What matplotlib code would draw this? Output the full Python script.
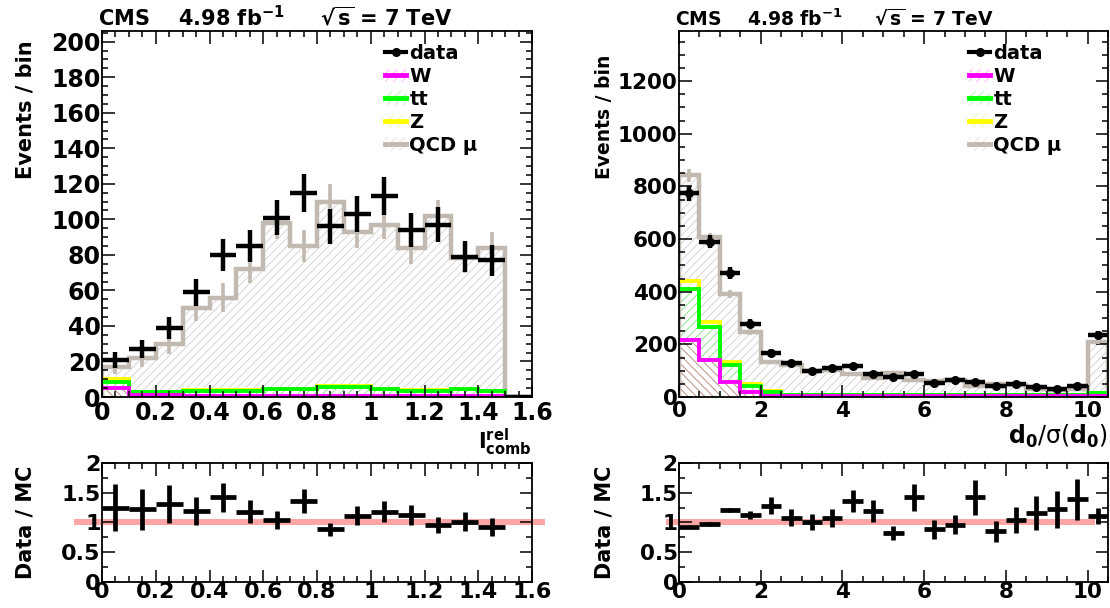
import numpy as np
import matplotlib
matplotlib.use('Agg')
import matplotlib.pyplot as plt
from matplotlib.ticker import MultipleLocator, FuncFormatter
from matplotlib.lines import Line2D
from matplotlib.patches import Patch
from matplotlib.legend_handler import HandlerTuple

plt.rcParams['font.family'] = ['DejaVu Sans']
plt.rcParams['font.weight'] = 'bold'
plt.rcParams['mathtext.fontset'] = 'dejavusans'
plt.rcParams['mathtext.default'] = 'bf'
plt.rcParams['hatch.linewidth'] = 0.6

# ---- left: relative combined isolation, 16 bins of 0.1 ----
iso_edges = [0.0, 0.1, 0.2, 0.3, 0.4, 0.5, 0.6, 0.7, 0.8, 0.9, 1.0, 1.1, 1.2, 1.3, 1.4, 1.5, 1.6]
iso_data = [21, 27, 39, 59, 80, 85, 101, 115, 96, 103, 113, 94, 97, 79, 77, 0]
iso_data_err = [4.6, 5.2, 6.2, 7.7, 8.9, 9.2, 10, 10.7, 9.8, 10.1, 10.6, 9.7, 9.8, 8.9, 8.8, 0]
iso_qcd = [17, 22, 30, 50, 56, 72, 98, 85, 110, 93, 97, 84, 102, 78, 84, 0]
iso_qcd_err = [4, 5, 6, 7, 8, 8, 9, 9, 10, 9, 8, 9, 9, 8, 9, 0]
iso_z = [10, 2.9, 2.9, 3.8, 3.8, 3.8, 4.6, 4.6, 6.0, 6.0, 4.5, 3.8, 3.8, 4.5, 3.6, 0]
iso_tt = [8.5, 2.6, 2.6, 3.6, 3.6, 3.6, 4.4, 4.4, 5.8, 5.8, 4.3, 3.6, 3.6, 4.3, 3.4, 0]
iso_w = [5, 1, 1, 0.8, 0.8, 0.8, 0.8, 0.8, 0.8, 0.8, 0.8, 0.8, 0.8, 0.8, 0.8, 0]
iso_centres = [0.05, 0.15, 0.25, 0.35, 0.45, 0.55, 0.65, 0.75, 0.85, 0.95, 1.05, 1.15, 1.25, 1.35, 1.45, 1.55]
iso_ratio = [1.25, 1.22, 1.31, 1.19, 1.42, 1.18, 1.04, 1.36, 0.885, 1.115, 1.18, 1.13, 0.96, 1.01, 0.92]
iso_ratio_err = [0.40, 0.35, 0.32, 0.23, 0.25, 0.19, 0.15, 0.20, 0.11, 0.16, 0.18, 0.17, 0.13, 0.16, 0.15]

# ---- right: d0 significance, 21 bins of 0.5 ----
d0_edges = [0.0, 0.5, 1.0, 1.5, 2.0, 2.5, 3.0, 3.5, 4.0, 4.5, 5.0, 5.5, 6.0, 6.5, 7.0, 7.5,
            8.0, 8.5, 9.0, 9.5, 10.0, 10.5]
d0_centres = [0.25, 0.75, 1.25, 1.75, 2.25, 2.75, 3.25, 3.75, 4.25, 4.75, 5.25, 5.75, 6.25,
              6.75, 7.25, 7.75, 8.25, 8.75, 9.25, 9.75, 10.25]
d0_data = [773, 590, 472, 279, 169, 130, 98, 112, 119, 86, 77, 88, 54, 64, 56, 42, 48, 37, 32, 42, 235]
d0_data_err = [28, 24, 22, 17, 13, 11, 10, 11, 11, 9, 9, 9, 7, 8, 7, 6, 7, 6, 6, 6, 15]
d0_qcd = [842, 606, 391, 248, 134, 122, 97, 104, 88, 72, 93, 63, 61, 66, 40, 48, 46, 32, 27, 30, 210]
d0_qcd_err = [25, 18, 14, 11, 8, 8, 7, 7, 7, 6, 7, 6, 6, 6, 5, 5, 5, 4, 4, 4, 10]
d0_z = [440, 285, 134, 49, 22, 9, 7, 7, 7, 7, 7, 7, 7, 7, 7, 7, 7, 7, 7, 7, 15]
d0_tt = [411, 266, 121, 43, 20, 8, 6, 6, 6, 6, 6, 6, 6, 6, 6, 6, 6, 6, 6, 6, 14]
d0_w = [216, 140, 58, 18, 5, 2, 2, 2, 2, 2, 2, 2, 2, 2, 2, 2, 2, 2, 2, 2, 3]
d0_ratio = [0.93, 0.975, 1.21, 1.126, 1.28, 1.08, 1.01, 1.07, 1.36, 1.19, 0.82, 1.42, 0.89, 0.96,
            1.42, 0.85, 1.04, 1.16, 1.22, 1.39, 1.11]
d0_ratio_err = [0.03, 0.03, 0.04, 0.06, 0.14, 0.14, 0.14, 0.15, 0.19, 0.19, 0.12, 0.23, 0.16, 0.16,
                0.29, 0.18, 0.22, 0.28, 0.31, 0.34, 0.13]

legend_names = ['data', 'W', 'tt', 'Z', 'QCD μ']
qcd_col = '#c2b9b0'
line_cols = {'W': '#ff00ff', 'tt': '#00ff00', 'Z': '#ffff00', 'QCD': qcd_col}
hatch_cols = {'W': '#b08070', 'tt': '#80e080', 'Z': '#f0f080', 'QCD': '#d0d0d0'}
leg_hatch = {'W': '#ffb0ff', 'tt': '#b0f0b0', 'Z': '#f8f0a0', 'QCD': '#e0e0e0'}

fig = plt.figure(figsize=(11.1, 6.08), dpi=100)

gfmt = FuncFormatter(lambda v, p: '%g' % round(v, 3))


def style(ax, xmaj, xmin, ymaj, ymin, size, xpad):
    ax.xaxis.set_major_locator(MultipleLocator(xmaj))
    ax.xaxis.set_minor_locator(MultipleLocator(xmin))
    ax.yaxis.set_major_locator(MultipleLocator(ymaj))
    ax.yaxis.set_minor_locator(MultipleLocator(ymin))
    ax.xaxis.set_major_formatter(gfmt)
    ax.yaxis.set_major_formatter(gfmt)
    ax.tick_params(which='both', direction='in', top=True, right=True, labelsize=size)
    ax.tick_params(axis='x', pad=xpad)
    ax.tick_params(axis='y', pad=1)
    ax.tick_params(which='major', length=9, width=1.1)
    ax.tick_params(which='minor', length=4.5, width=1.1)
    for s in ax.spines.values():
        s.set_linewidth(1.3)


def hatched(ax, edges, vals, col, h):
    y = list(vals) + [vals[-1]]
    ax.fill_between(edges, y, step='post', facecolor='white', edgecolor=col, hatch=h, lw=0)


def main_panel(ax, edges, centres, data, derr, qcd, qerr, z, tt, w, marker):
    hatched(ax, edges, qcd, hatch_cols['QCD'], '////')
    hatched(ax, edges, z, hatch_cols['Z'], '////')
    hatched(ax, edges, tt, hatch_cols['tt'], '////')
    hatched(ax, edges, w, hatch_cols['W'], '\\\\\\\\')
    ax.stairs(qcd, edges, color=line_cols['QCD'], lw=3.2, baseline=0)
    ax.errorbar(centres, qcd, yerr=qerr, fmt='none', ecolor=line_cols['QCD'], elinewidth=2.6)
    ax.stairs(z, edges, color=line_cols['Z'], lw=2.8, baseline=None)
    ax.stairs(tt, edges, color=line_cols['tt'], lw=2.8, baseline=None)
    ax.stairs(w, edges, color=line_cols['W'], lw=2.8, baseline=None)
    half = (edges[1] - edges[0]) / 2
    ax.errorbar(centres, data, xerr=half, yerr=derr, fmt=marker, color='black', ms=5.5,
                elinewidth=3.2, capsize=0, zorder=5)


def legend(ax, x):
    hs = [Line2D([], [], color='black', marker='o', ms=5.5, lw=3)]
    for k in ['W', 'tt', 'Z', 'QCD']:
        hs.append((Patch(facecolor='white', edgecolor=leg_hatch[k], hatch='////', lw=0),
                   Line2D([], [], color=line_cols[k], lw=3.5)))
    ax.legend(hs, legend_names, loc='upper left', bbox_to_anchor=(x, 0.985), frameon=False,
              fontsize=14, handlelength=1.1, handletextpad=0.15, labelspacing=0.2,
              borderaxespad=0, handler_map={tuple: HandlerTuple(ndivide=1, pad=0)})


def title(ax, size):
    ax.text(-0.01, 1.004, r'CMS    4.98 fb$^{-1}$     $\sqrt{s}$ = 7 TeV', transform=ax.transAxes,
            fontsize=size, fontweight='bold', ha='left', va='bottom')


def ratio_panel(ax, centres, ratio, rerr, half, band, lx):
    ax.axhspan(0.955, 1.055, xmin=band[0], xmax=band[1], color='#ffa5a5', lw=0, clip_on=False)
    n = len(ratio)
    ax.errorbar(centres[:n], ratio, xerr=half, yerr=rerr, fmt='none', ecolor='black',
                elinewidth=3.4, capsize=0, zorder=5)
    ax.set_ylim(0, 2)
    ax.set_ylabel('Data / MC', fontsize=15, fontweight='bold')
    ax.yaxis.set_label_coords(lx, 0.5)


# left column
axl = fig.add_axes([0.0919, 0.347, 0.3874, 0.602])
main_panel(axl, iso_edges, iso_centres, iso_data, iso_data_err, iso_qcd, iso_qcd_err,
           iso_z, iso_tt, iso_w, 'none')
axl.set_xlim(0, 1.6)
axl.set_ylim(0, 206)
style(axl, 0.2, 0.05, 20, 5, 17, 3)
axl.set_ylabel('Events / bin', fontsize=15, fontweight='bold', loc='top')
axl.yaxis.set_label_coords(-0.155, 0.975)
axl.set_xlabel(r'$I^{rel}_{comb}$', fontsize=15, loc='right', labelpad=1)
legend(axl, 0.64)
title(axl, 15)

axlr = fig.add_axes([0.0919, 0.0428, 0.3874, 0.1957])
ratio_panel(axlr, iso_centres, iso_ratio, iso_ratio_err, 0.05, (-0.065, 1.03), -0.155)
axlr.set_xlim(0, 1.6)
style(axlr, 0.2, 0.05, 0.5, 0.25, 16, 0)

# right column
axr = fig.add_axes([0.6117, 0.347, 0.3865, 0.602])
main_panel(axr, d0_edges, d0_centres, d0_data, d0_data_err, d0_qcd, d0_qcd_err,
           d0_z, d0_tt, d0_w, 'o')
axr.set_xlim(0, 10.5)
axr.set_ylim(0, 1390)
style(axr, 2, 0.5, 200, 50, 15.5, 3)
axr.set_ylabel('Events / bin', fontsize=13.5, fontweight='bold', loc='top')
axr.yaxis.set_label_coords(-0.151, 0.935)
axr.set_xlabel(r'$d_0$/σ($d_0$)', fontsize=17, loc='right', labelpad=1)
legend(axr, 0.658)
title(axr, 13.5)

axrr = fig.add_axes([0.6117, 0.0428, 0.3865, 0.1957])
ratio_panel(axrr, d0_centres, d0_ratio, d0_ratio_err, 0.25, (-0.03, 0.97), -0.151)
axrr.set_xlim(0, 10.5)
style(axrr, 2, 0.5, 0.5, 0.25, 15.5, 0)

fig.savefig('out.png', dpi=100)
